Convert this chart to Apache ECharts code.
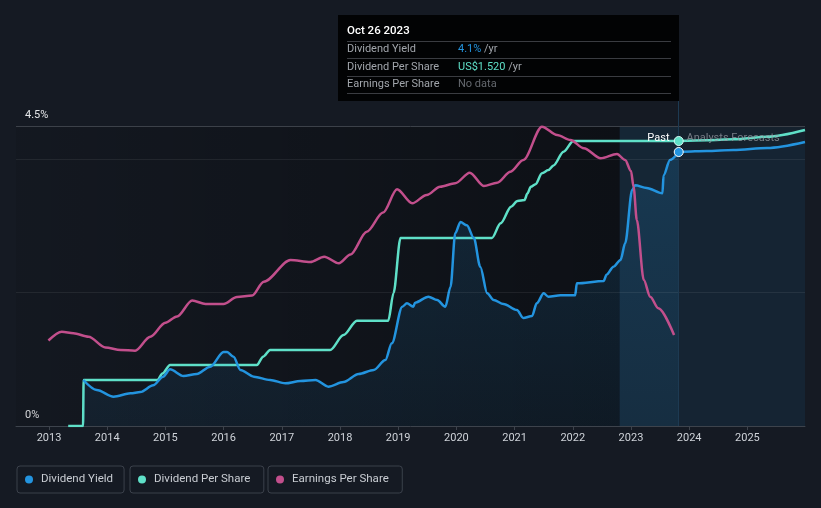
<!DOCTYPE html>
<html>
<head>
<meta charset="utf-8">
<script src="https://cdn.jsdelivr.net/npm/echarts@6/dist/echarts.min.js"></script>
<style>
html,body{margin:0;padding:0;background:#151a23;}
#c{width:821px;height:508px;}
</style>
</head>
<body>
<div id="c"></div>
<script>
// ---- data (x = decimal year) ----
const xTicks = [2013,2014,2015,2016,2017,2018,2019,2020,2021,2022,2023,2024,2025];
const yieldTicks = [0, 4.5];
const currentDate = 2023.82;
const bandStart = 2022.806;

const yieldPast = [[2013.59,0.69],[2013.82,0.54],[2014.11,0.44],[2014.40,0.49],[2014.57,0.51],[2014.79,0.61],[2014.96,0.74],[2015.08,0.85],[2015.31,0.75],[2015.54,0.78],[2015.77,0.89],[2016.00,1.11],[2016.06,1.11],[2016.17,1.04],[2016.29,0.84],[2016.52,0.74],[2016.80,0.69],[2017.06,0.64],[2017.32,0.675],[2017.58,0.69],[2017.80,0.59],[2018.06,0.66],[2018.32,0.78],[2018.58,0.84],[2018.78,0.99],[2018.89,1.24],[2019.07,1.79],[2019.15,1.84],[2019.26,1.79],[2019.29,1.85],[2019.52,1.94],[2019.67,1.89],[2019.81,1.79],[2019.90,2.09],[2019.98,2.89],[2020.07,3.06],[2020.18,3.01],[2020.30,2.82],[2020.41,2.39],[2020.53,1.99],[2020.64,1.89],[2020.81,1.83],[2021.04,1.74],[2021.15,1.62],[2021.30,1.65],[2021.38,1.84],[2021.50,1.99],[2021.58,1.94],[2021.79,1.96],[2022.04,1.96],[2022.07,2.14],[2022.53,2.175],[2022.58,2.27],[2022.70,2.39],[2022.82,2.49],[2022.90,2.74],[2023.02,3.54],[2023.07,3.61],[2023.27,3.57],[2023.54,3.49],[2023.56,3.76],[2023.67,3.99],[2023.82,4.11]];
const yieldForecast = [[2023.82,4.11],[2023.90,4.115],[2024.30,4.125],[2024.76,4.14],[2025.34,4.17],[2025.99,4.26]];

const dpsPast = [[2013.33,0],[2013.585,0],[2013.595,0.245],[2014.86,0.245],[2014.95,0.28],[2015.08,0.325],[2016.57,0.325],[2016.68,0.37],[2016.80,0.405],[2017.83,0.405],[2018.06,0.485],[2018.29,0.562],[2018.83,0.562],[2018.92,0.71],[2019.04,1.003],[2020.61,1.003],[2020.76,1.081],[2020.94,1.17],[2021.05,1.20],[2021.17,1.205],[2021.22,1.24],[2021.28,1.276],[2021.36,1.29],[2021.47,1.348],[2021.58,1.365],[2021.67,1.39],[2021.84,1.463],[2022.01,1.52],[2023.82,1.52]];
const dpsForecast = [[2023.82,1.52],[2024.30,1.524],[2024.77,1.529],[2025.34,1.543],[2025.99,1.579]];

const epsPast = [[2012.99,0.855],[2013.22,0.943],[2013.42,0.927],[2013.68,0.893],[2013.97,0.785],[2014.23,0.76],[2014.48,0.753],[2014.74,0.893],[2015.00,1.033],[2015.20,1.095],[2015.46,1.255],[2015.69,1.22],[2016.00,1.22],[2016.23,1.29],[2016.49,1.305],[2016.69,1.443],[2017.15,1.66],[2017.49,1.64],[2017.73,1.693],[2017.98,1.627],[2018.18,1.715],[2018.46,1.943],[2018.74,2.135],[2018.98,2.367],[2019.24,2.227],[2019.49,2.31],[2019.72,2.393],[2019.98,2.427],[2020.23,2.533],[2020.47,2.40],[2020.70,2.433],[2020.93,2.543],[2021.15,2.66],[2021.47,2.993],[2021.73,2.91],[2021.96,2.86],[2022.19,2.777],[2022.48,2.677],[2022.76,2.72],[2022.90,2.66],[2023.00,2.55],[2023.045,2.39],[2023.10,2.06],[2023.22,1.46],[2023.33,1.293],[2023.47,1.177],[2023.74,0.91]];

const seriesNames = ['Dividend Yield','Dividend Per Share','Earnings Per Share'];
const colors = {yield:'#2394df', dps:'#5fe0c8', eps:'#c24f8c'};

const tipTitle = 'Oct 26 2023';
const tipRows = [
  ['Dividend Yield', '4.1%', ' /yr', 'b'],
  ['Dividend Per Share', 'US$1.520', ' /yr', 't'],
  ['Earnings Per Share', 'No data', '', 'n']
];

// ---- chart ----
const chart = echarts.init(document.getElementById('c'), null, {renderer:'canvas'});
const FONT = 'Roboto, sans-serif';

const legendCommon = {
  orient:'horizontal', top:466, icon:'circle', itemWidth:14, itemHeight:8,
  borderColor:'#3b414b', borderWidth:1, borderRadius:3,
  selectedMode:false,
  textStyle:{color:'#c9cdd3', fontSize:11.5, fontFamily:FONT, lineHeight:13}
};

const lineBase = {type:'line', smooth:0.3, smoothMonotone:'x', showSymbol:false, symbol:'none', silent:true, animation:false};

const tipGraphic = [];
tipGraphic.push({type:'rect', shape:{x:338,y:15,width:341,height:86}, style:{fill:'#020304'}, z:100});
tipGraphic.push({type:'text', x:347, y:31, style:{text:tipTitle, fill:'#ffffff', font:'500 11.5px '+FONT, verticalAlign:'middle'}, z:101});
[41.5,58.5,76.5,93.5].forEach(y=>{
  tipGraphic.push({type:'line', shape:{x1:347,y1:y,x2:671,y2:y}, style:{stroke:'#3a3c41', lineWidth:1}, z:101});
});
tipRows.forEach((r,i)=>{
  const y = [49.5,67,84.5][i];
  tipGraphic.push({type:'text', x:347, y:y, style:{text:r[0], fill:'#a2a6ac', font:'11px '+FONT, verticalAlign:'middle'}, z:101});
  tipGraphic.push({type:'text', x:458, y:y, style:{text:'{'+r[3]+'|'+r[1]+'}{g|'+r[2]+'}', verticalAlign:'middle', font:'11px '+FONT,
    rich:{b:{fill:colors.yield, font:'11px '+FONT}, t:{fill:colors.dps, font:'11px '+FONT}, n:{fill:'#65696f', font:'11px '+FONT}, g:{fill:'#a2a6ac', font:'11px '+FONT}}}, z:101});
});
tipGraphic.push({type:'text', x:669.5, y:138.5, style:{text:'Past', fill:'#ffffff', font:'11px '+FONT, align:'right', verticalAlign:'middle'}, z:50});
tipGraphic.push({type:'text', x:686.5, y:138.5, style:{text:'Analysts Forecasts', fill:'rgba(150,155,163,0.75)', font:'11px '+FONT, align:'left', verticalAlign:'middle'}, z:50});

const option = {
  backgroundColor:'#151a23',
  animation:false,
  grid:{left:16, right:16, top:15, bottom:82, containLabel:false},
  legend:[
    Object.assign({}, legendCommon, {left:17, padding:[7,11,7,8], data:[seriesNames[0]]}),
    Object.assign({}, legendCommon, {left:130, padding:[7,13.5,7,8], data:[seriesNames[1]]}),
    Object.assign({}, legendCommon, {left:268, padding:[7,13.5,7,8], data:[seriesNames[2]]})
  ],
  xAxis:{type:'value', min:2012.433, max:2025.99,
    axisLine:{show:true, lineStyle:{color:'#3d434c', width:1}},
    axisTick:{show:true, customValues:xTicks, length:4, lineStyle:{color:'#3d434c'}},
    axisLabel:{customValues:xTicks, formatter:v=>String(Math.round(v)), color:'#cfd3d9', fontSize:11, fontFamily:FONT, margin:7},
    splitLine:{show:false}},
  yAxis:[
    {type:'value', min:0, max:6.165, position:'left',
      axisLine:{show:false}, axisTick:{show:false}, splitLine:{show:false},
      axisLabel:{customValues:yieldTicks, inside:true, margin:9, formatter:v=>(v===0?'0%':v+'%'),
        verticalAlign:'bottom', padding:[0,0,5,0], color:'#e4e6e9', fontSize:11, fontFamily:FONT}},
    {type:'value', min:0, max:2.192, show:false},
    {type:'value', min:0, max:4.11, show:false}
  ],
  graphic: tipGraphic,
  series:[
    Object.assign({}, lineBase, {name:'bg', yAxisIndex:0, z:1, data:[[2013,0]], lineStyle:{width:0, opacity:0},
      markArea:{silent:true, data:[
        [{xAxis:2012.433, yAxis:0, itemStyle:{color:{type:'linear',x:0,y:0,x2:1,y2:0,colorStops:[{offset:0,color:'rgba(0,0,0,0.08)'},{offset:1,color:'rgba(0,0,0,0.38)'}]}}},{xAxis:bandStart, yAxis:4.5}],
        [{xAxis:bandStart, yAxis:0, itemStyle:{color:'rgba(25,80,120,0.22)'}},{xAxis:currentDate, yAxis:4.5}],
        [{xAxis:currentDate, yAxis:0, itemStyle:{color:'rgba(35,148,223,0.06)'}},{xAxis:2025.99, yAxis:4.5}]
      ]},
      markLine:{silent:true, symbol:['none','none'], label:{show:false}, data:[
        {yAxis:4.5, lineStyle:{color:'#3c4149', width:1, type:'solid'}},
        {yAxis:4, lineStyle:{color:'rgba(255,255,255,0.07)', width:1, type:'solid'}},
        {yAxis:2, lineStyle:{color:'rgba(255,255,255,0.07)', width:1, type:'solid'}},
        {xAxis:currentDate, lineStyle:{color:'#1d3a52', width:1, type:'solid'}}
      ]}
    }),
    Object.assign({}, lineBase, {name:seriesNames[1], yAxisIndex:1, z:3, data:dpsPast, color:colors.dps,
      lineStyle:{color:colors.dps, width:2.5},
      markPoint:{silent:true, symbol:'circle', symbolSize:9, label:{show:false},
        itemStyle:{color:colors.dps, borderColor:'#d9fbf4', borderWidth:1},
        data:[{coord:[currentDate,1.52]}]}}),
    Object.assign({}, lineBase, {name:seriesNames[1], yAxisIndex:1, z:3, data:dpsForecast, color:colors.dps,
      lineStyle:{color:colors.dps, width:2.5}}),
    Object.assign({}, lineBase, {name:seriesNames[0], yAxisIndex:0, z:4, data:yieldPast, color:colors.yield,
      lineStyle:{color:colors.yield, width:2.5},
      areaStyle:{color:{type:'linear',x:0,y:0,x2:0,y2:1,colorStops:[{offset:0,color:'rgba(35,148,223,0.24)'},{offset:1,color:'rgba(35,148,223,0.10)'}]}},
      markPoint:{silent:true, symbol:'circle', symbolSize:9, label:{show:false},
        itemStyle:{color:colors.yield, borderColor:'#ffffff', borderWidth:1},
        data:[{coord:[currentDate,4.11]}]}}),
    Object.assign({}, lineBase, {name:seriesNames[0], yAxisIndex:0, z:4, data:yieldForecast, color:colors.yield,
      lineStyle:{color:colors.yield, width:2.5},
      areaStyle:{color:'rgba(35,148,223,0.05)'}}),
    Object.assign({}, lineBase, {name:seriesNames[2], yAxisIndex:2, z:5, data:epsPast, color:colors.eps,
      lineStyle:{color:colors.eps, width:2.5}})
  ]
};
chart.setOption(option);
</script>
</body>
</html>
